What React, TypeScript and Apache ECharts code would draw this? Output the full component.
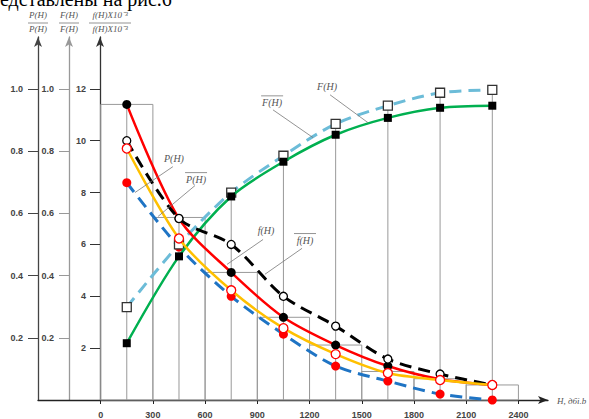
import React, { useEffect, useRef } from "react";
import * as echarts from "echarts";

// ---- data ----
const hPoints = [150, 450, 750, 1050, 1350, 1650, 1950, 2250];
const fH = [11.4, 7.0, 4.92, 3.19, 2.12, 1.31, 0.8, 0.58]; // f(H) x10^-3
const fBarH = [10.0, 7.0, 6.0, 4.0, 2.85, 1.58, 1.0, 0.58]; // f̄(H) x10^-3
const pH = [9.7, 6.23, 4.23, 2.77, 1.77, 1.04, 0.77, 0.58]; // P(H) (scaled)
const pBarH = [8.38, 5.9, 4.0, 2.54, 1.31, 0.73, 0.23, 0.0]; // P̄(H) (scaled)
const FH = [2.19, 5.54, 7.85, 9.19, 10.23, 10.88, 11.27, 11.35]; // F(H)
const FBarH = [3.58, 6.0, 8.0, 9.42, 10.65, 11.35, 11.85, 11.96]; // F̄(H)

const binStarts = [0, 300, 600, 900, 1200, 1500, 1800, 2100];
const binWidth = 300;
const histHeights = [11.4, 7.04, 4.92, 3.19, 2.12, 1.1, 0.82, 0.58];

const xTicks = [0, 300, 600, 900, 1200, 1500, 1800, 2100, 2400];
const rightTicks = [2, 4, 6, 8, 10, 12];
const leftTicks = [0.2, 0.4, 0.6, 0.8, 1.0];
const rightMax = 14;
const leftMax = 14 / 12;

// annotations in data coordinates: text position, leader line from/to
const annotations = [
  { label: "F(H)", bar: false, at: [1301, 12.08], from: [1318, 11.77], to: [1537, 10.69] },
  { label: "F(H)", bar: true, at: [985, 11.46], from: [990, 11.19], to: [1220, 10.12] },
  { label: "P(H)", bar: false, at: [421, 9.31], from: [415, 9.0], to: [197, 8.0] },
  { label: "P(H)", bar: true, at: [548, 8.5], from: [542, 8.27], to: [330, 7.08] },
  { label: "f(H)", bar: false, at: [950, 6.54], from: [933, 6.19], to: [726, 5.23] },
  { label: "f(H)", bar: true, at: [1174, 6.15], from: [1157, 5.85], to: [944, 4.85] },
];

const tickFont = {
  fontFamily: "Liberation Sans",
  fontWeight: "bold" as const,
  fontSize: 9,
  color: "#444",
};

const annFont = "italic 10px 'Liberation Serif'";

export default function App() {
  const ref = useRef<HTMLDivElement>(null);
  useEffect(() => {
    if (!ref.current) return;
    const chart = echarts.init(ref.current, null, { renderer: "svg" });

    const lineSeries = (
      data: number[],
      color: string,
      dashed: boolean,
      symbol: string,
      size: number,
      fill: string,
      border: string,
      z: number,
      width = 2.5
    ) => ({
      type: "line",
      data: hPoints.map((h, i) => [h, data[i]]),
      smooth: 0.3,
      symbol,
      symbolSize: size,
      showSymbol: true,
      z,
      lineStyle: { color, width, type: dashed ? [12, 7] : "solid" },
      itemStyle: { color: fill, borderColor: border, borderWidth: fill === "#fff" ? 1.3 : 0 },
      emphasis: { disabled: true },
      silent: true,
    });

    const option: any = {
      animation: false,
      grid: { left: 38, right: 41, top: 37, bottom: 18 },
      xAxis: {
        type: "value",
        min: -360,
        max: 2570,
        splitLine: { show: false },
        axisLine: {
          onZero: false,
          lineStyle: { color: "#222", width: 1.3 },
          symbol: ["none", "arrow"],
          symbolSize: [6, 10],
        },
        axisTick: { customValues: xTicks, length: 4, lineStyle: { color: "#222" } },
        axisLabel: { customValues: xTicks, margin: 10, formatter: (v: number) => String(v), ...tickFont },
      },
      yAxis: [
        {
          type: "value",
          min: 0,
          max: rightMax,
          position: "left",
          offset: -62,
          splitLine: { show: false },
          axisLine: {
            show: true,
            onZero: false,
            lineStyle: { color: "#333", width: 1.3 },
            symbol: ["none", "arrow"],
            symbolSize: [6, 10],
          },
          axisTick: { show: true, customValues: rightTicks, length: 10, lineStyle: { color: "#333" } },
          axisLabel: { customValues: rightTicks, margin: 14, formatter: (v: number) => String(v), ...tickFont },
        },
        {
          type: "value",
          min: 0,
          max: leftMax,
          position: "left",
          offset: 0,
          splitLine: { show: false },
          axisLine: {
            show: true,
            onZero: false,
            lineStyle: { color: "#444", width: 1.3 },
            symbol: ["none", "arrow"],
            symbolSize: [6, 10],
          },
          axisTick: { show: true, customValues: leftTicks, length: 10, lineStyle: { color: "#444" } },
          axisLabel: { customValues: leftTicks, margin: 15, formatter: (v: number) => v.toFixed(1), ...tickFont },
        },
        {
          type: "value",
          min: 0,
          max: leftMax,
          position: "left",
          offset: -31,
          splitLine: { show: false },
          axisLine: {
            show: true,
            onZero: false,
            lineStyle: { color: "#999", width: 1.3 },
            symbol: ["none", "arrow"],
            symbolSize: [6, 10],
          },
          axisTick: { show: true, customValues: leftTicks, length: 10, lineStyle: { color: "#999" } },
          axisLabel: { customValues: leftTicks, margin: 15, formatter: (v: number) => v.toFixed(1), ...tickFont },
        },
      ],
      series: [
        {
          type: "custom",
          silent: true,
          z: 1,
          encode: { x: [0, 1], y: 2 },
          data: binStarts.map((s, i) => [s, s + binWidth, histHeights[i]]),
          renderItem: (_p: any, api: any) => {
            const a = api.coord([api.value(0), api.value(2)]);
            const b = api.coord([api.value(1), 0]);
            return {
              type: "rect",
              shape: { x: a[0], y: a[1], width: b[0] - a[0], height: b[1] - a[1] },
              style: { fill: "none", stroke: "#999", lineWidth: 1 },
            };
          },
        },
        {
          type: "custom",
          silent: true,
          z: 1,
          encode: { x: 0, y: 1 },
          data: hPoints.map((h, i) => [h, Math.max(fH[i], fBarH[i], pH[i], pBarH[i], FH[i], FBarH[i])]),
          renderItem: (_p: any, api: any) => {
            const a = api.coord([api.value(0), 0]);
            const b = api.coord([api.value(0), api.value(1)]);
            return {
              type: "line",
              shape: { x1: a[0], y1: a[1], x2: b[0], y2: b[1] },
              style: { stroke: "#999", lineWidth: 1 },
            };
          },
        },
        lineSeries(pBarH, "#1f74c4", true, "circle", 9, "#ff0000", "#ff0000", 2, 3),
        lineSeries(FBarH, "#6cbcd8", true, "rect", 9, "#fff", "#333", 3, 3),
        lineSeries(FH, "#00b050", false, "rect", 8, "#000", "#000", 4),
        lineSeries(fH, "#ff0000", false, "circle", 9, "#000", "#000", 5),
        lineSeries(fBarH, "#000", true, "circle", 8, "#fff", "#000", 6, 3),
        lineSeries(pH, "#ffc000", false, "circle", 9, "#fff", "#ff0000", 7),
      ],
    };
    chart.setOption(option);

    const g: any[] = [];
    // heading fragment at top (cut off by the page edge, as in the reference)
    g.push({
      type: "text",
      x: 0,
      y: 9,
      style: {
        text: "едставлены на рис.6",
        font: "20px 'Liberation Serif'",
        fill: "#000",
        verticalAlign: "bottom",
      },
    });
    // axis titles (fractions)
    const heads = [
      { x: 38, top: "P(H)", bot: "P(H)", w: 20 },
      { x: 69, top: "F(H)", bot: "F(H)", w: 20 },
      { x: 110, top: "f(H)X10⁻³", bot: "f(H)X10⁻³", w: 42 },
    ];
    heads.forEach((h) => {
      g.push({
        type: "text",
        x: h.x,
        y: 15,
        style: { text: h.top, font: "italic 9px 'Liberation Serif'", fill: "#555", align: "center", verticalAlign: "middle" },
      });
      g.push({
        type: "line",
        shape: { x1: h.x - h.w / 2, y1: 23, x2: h.x + h.w / 2, y2: 23 },
        style: { stroke: "#666", lineWidth: 0.7 },
      });
      g.push({
        type: "text",
        x: h.x,
        y: 29,
        style: { text: h.bot, font: "italic 9px 'Liberation Serif'", fill: "#555", align: "center", verticalAlign: "middle" },
      });
    });
    // x axis name
    g.push({
      type: "text",
      x: 557,
      y: 401,
      style: { text: "H, дбі.b", font: "italic 9px 'Liberation Serif'", fill: "#555", verticalAlign: "middle" },
    });
    // annotations
    const cp = (p: number[]) => chart.convertToPixel({ xAxisIndex: 0, yAxisIndex: 0 }, p) as number[];
    annotations.forEach((a) => {
      const t = cp(a.at);
      const f = cp(a.from);
      const to = cp(a.to);
      g.push({
        type: "text",
        x: t[0],
        y: t[1],
        z: 100,
        style: { text: a.label, font: annFont, fill: "#555", align: "center", verticalAlign: "middle" },
      });
      if (a.bar) {
        g.push({
          type: "line",
          z: 100,
          shape: { x1: t[0] - 11, y1: t[1] - 7, x2: t[0] + 11, y2: t[1] - 7 },
          style: { stroke: "#666", lineWidth: 0.7 },
        });
      }
      g.push({
        type: "line",
        z: 100,
        shape: { x1: f[0], y1: f[1], x2: to[0], y2: to[1] },
        style: { stroke: "#777", lineWidth: 0.8 },
      });
    });
    chart.setOption({ graphic: g });

    return () => chart.dispose();
  }, []);
  return (
    <div
      ref={ref}
      style={{ position: "fixed", left: 0, top: 0, width: 589, height: 419, background: "#fff" }}
    />
  );
}
